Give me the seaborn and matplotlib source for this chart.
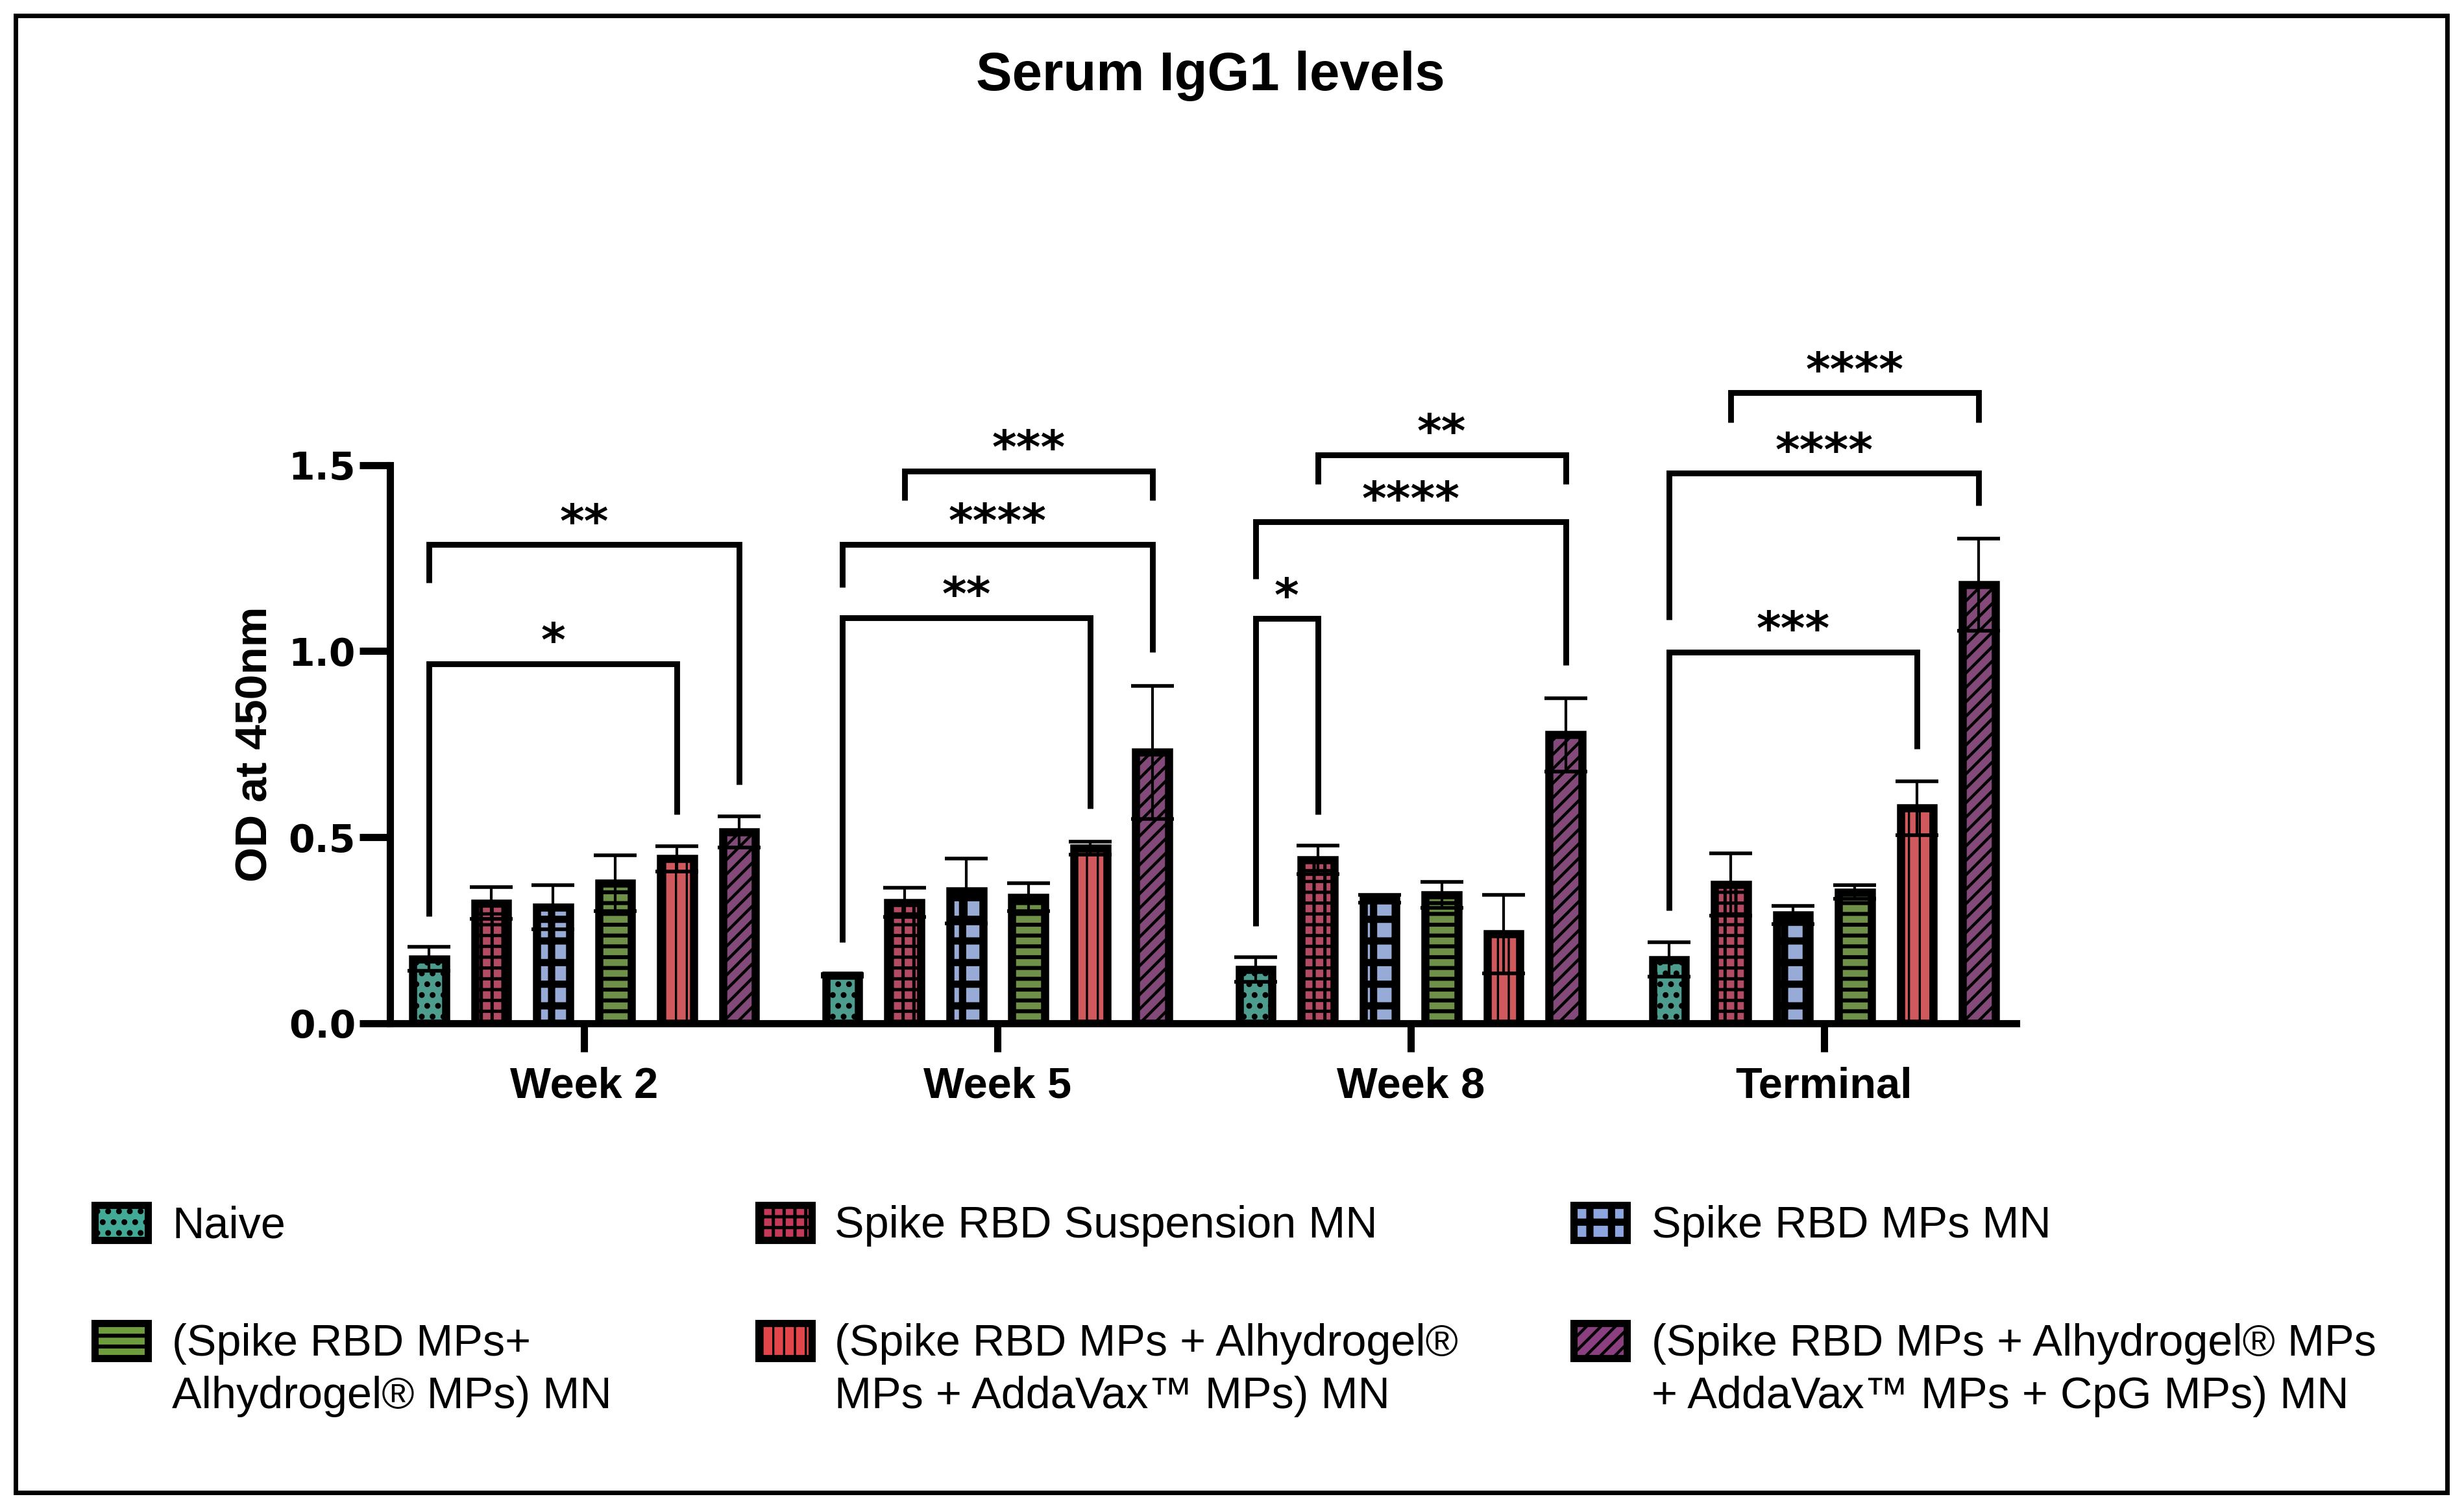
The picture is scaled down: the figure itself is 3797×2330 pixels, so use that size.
import numpy as np
import pandas as pd
import matplotlib
matplotlib.use('Agg')
import matplotlib.pyplot as plt
from matplotlib.patches import Rectangle
import seaborn as sns

# --- data (mean OD at 450nm and SD) ---
weeks = ['Week 2', 'Week 5', 'Week 8', 'Terminal']
groups = ['Naive',
          'Spike RBD Suspension MN',
          'Spike RBD MPs MN',
          '(Spike RBD MPs+ Alhydrogel® MPs) MN',
          '(Spike RBD MPs + Alhydrogel® MPs + AddaVax™ MPs) MN',
          '(Spike RBD MPs + Alhydrogel® MPs + AddaVax™ MPs + CpG MPs) MN']
legend_labels = ['Naive',
                 'Spike RBD Suspension MN',
                 'Spike RBD MPs MN',
                 '(Spike RBD MPs+\nAlhydrogel® MPs) MN',
                 '(Spike RBD MPs + Alhydrogel®\nMPs + AddaVax™ MPs) MN',
                 '(Spike RBD MPs + Alhydrogel® MPs\n+ AddaVax™ MPs + CpG MPs) MN']

naive_mean = [0.173, 0.129, 0.144, 0.171]
susp_mean = [0.323, 0.325, 0.439, 0.373]
mps_mean = [0.312, 0.355, 0.335, 0.291]
alhy_mean = [0.376, 0.339, 0.345, 0.353]
adda_mean = [0.442, 0.471, 0.240, 0.578]
cpg_mean = [0.514, 0.728, 0.775, 1.178]

naive_sd = [0.032, 0.004, 0.033, 0.046]
susp_sd = [0.043, 0.039, 0.038, 0.084]
mps_sd = [0.059, 0.087, 0.011, 0.024]
alhy_sd = [0.075, 0.037, 0.035, 0.018]
adda_sd = [0.034, 0.018, 0.105, 0.073]
cpg_sd = [0.042, 0.179, 0.099, 0.124]

means = [naive_mean, susp_mean, mps_mean, alhy_mean, adda_mean, cpg_mean]
sds = [naive_sd, susp_sd, mps_sd, alhy_sd, adda_sd, cpg_sd]

# significance brackets: (week, group i, group j, line y, left leg end, right leg end, label)
brackets = [
    (0, 0, 4, 0.966, 0.287, 0.561, '*'),
    (0, 0, 5, 1.286, 1.184, 0.641, '**'),
    (1, 0, 4, 1.090, 0.218, 0.577, '**'),
    (1, 0, 5, 1.287, 1.172, 0.997, '****'),
    (1, 1, 5, 1.484, 1.406, 1.406, '***'),
    (2, 0, 1, 1.088, 0.261, 0.561, '*'),
    (2, 0, 5, 1.347, 1.195, 0.962, '****'),
    (2, 1, 5, 1.528, 1.449, 1.449, '**'),
    (3, 0, 4, 0.998, 0.304, 0.738, '***'),
    (3, 0, 5, 1.478, 1.084, 1.391, '****'),
    (3, 1, 5, 1.694, 1.615, 1.615, '****'),
]

colors = ['#41a996', '#c43a58', '#8ea6e0', '#6f9c3d', '#e2464a', '#8c3f80']
hatches = ['..', '++', '+', '--', '||', '///']
hatch_lw = [2.0, 1.8, 4.0, 2.2, 1.2, 1.6]

rows = []
for g, m in zip(groups, means):
    for w, v in zip(weeks, m):
        rows.append({'week': w, 'group': g, 'od': v})
df = pd.DataFrame(rows)

sns.set_style('ticks')
plt.rcParams['font.family'] = ['Liberation Sans', 'DejaVu Sans']
plt.rcParams['hatch.linewidth'] = 2.0
for key in ['text.color', 'axes.labelcolor', 'xtick.color', 'ytick.color', 'axes.edgecolor']:
    plt.rcParams[key] = 'black'

fig = plt.figure(figsize=(18.99, 11.65), dpi=200)
ax = fig.add_axes([0.1582, 0.3232, 0.6598, 0.3692])

sns.barplot(data=df, x='week', y='od', hue='group', order=weeks, hue_order=groups,
            palette=dict(zip(groups, colors)), width=0.9, gap=0.47, errorbar=None,
            edgecolor='black', linewidth=4.5, legend=False, ax=ax)

bar_containers = list(ax.containers)
centers = []
for k, cont in enumerate(bar_containers):
    xs = []
    for p in cont.patches:
        p.set_hatch(hatches[k])
        if hasattr(p, 'set_hatch_linewidth'):
            p.set_hatch_linewidth(hatch_lw[k])
        xs.append(p.get_x() + p.get_width() / 2)
    centers.append(xs)
for k in range(len(groups)):
    ax.errorbar(centers[k], means[k], yerr=sds[k], fmt='none', ecolor='black',
                elinewidth=1.5, capsize=12, capthick=2, zorder=3)

for wk, i, j, y_line, y_l, y_r, label in brackets:
    xl = centers[i][wk]
    xr = centers[j][wk]
    ax.plot([xl, xl, xr, xr], [y_l, y_line, y_line, y_r], color='black', lw=3.2,
            clip_on=False, solid_capstyle='butt', solid_joinstyle='miter')
    ax.text((xl + xr) / 2, y_line + 0.02, label, ha='center', va='baseline',
            fontsize=26, fontweight='bold', family='DejaVu Sans', clip_on=False)

ax.set_xlim(-0.47, 3.465)
ax.set_ylim(0, 1.5)
ax.set_yticks([0.0, 0.5, 1.0, 1.5])
ax.set_yticklabels(['0.0', '0.5', '1.0', '1.5'])
ax.set_xlabel('')
ax.set_ylabel('OD at 450nm', fontsize=25, fontweight='bold')
ax.yaxis.set_label_coords(-0.07, 0.5)
sns.despine(ax=ax)
for s in ['left', 'bottom']:
    ax.spines[s].set_linewidth(4)
    ax.spines[s].set_color('black')
ax.tick_params(axis='y', length=17, width=4, pad=2, labelsize=21, color='black')
ax.tick_params(axis='x', length=16, width=4, pad=8, labelsize=24, color='black')
for t in ax.get_yticklabels():
    t.set_fontweight('bold')
    t.set_family('DejaVu Sans')
for t in ax.get_xticklabels():
    t.set_fontweight('bold')

fig.text(0.491, 0.950, 'Serum IgG1 levels', ha='center', va='center',
         fontsize=30, fontweight='bold')

# legend drawn as hatched swatches in a 3 x 2 grid
W, H = 3798.0, 2330.0
col_patch_x = [146, 1169, 2425]
col_text_x = [265, 1286, 2545]
row_top_y = [1857, 2039]
for k in range(len(groups)):
    r, c = divmod(k, 3)
    rect = Rectangle((col_patch_x[c] / W, 1 - (row_top_y[r] + 54) / H), 82 / W, 54 / H,
                     transform=fig.transFigure, facecolor=colors[k], edgecolor='black',
                     linewidth=4, hatch=hatches[k])
    if hasattr(rect, 'set_hatch_linewidth'):
        rect.set_hatch_linewidth(hatch_lw[k])
    fig.patches.append(rect)
    fig.text(col_text_x[c] / W, 1 - row_top_y[r] / H, legend_labels[k], ha='left', va='top',
             fontsize=24.6, linespacing=1.33)

fig.patches.append(Rectangle((24 / W, 1 - 2300 / H), (3771 - 24) / W, (2300 - 24) / H,
                             transform=fig.transFigure, fill=False, edgecolor='black',
                             linewidth=2.5))

fig.savefig('out.png', dpi=200)
